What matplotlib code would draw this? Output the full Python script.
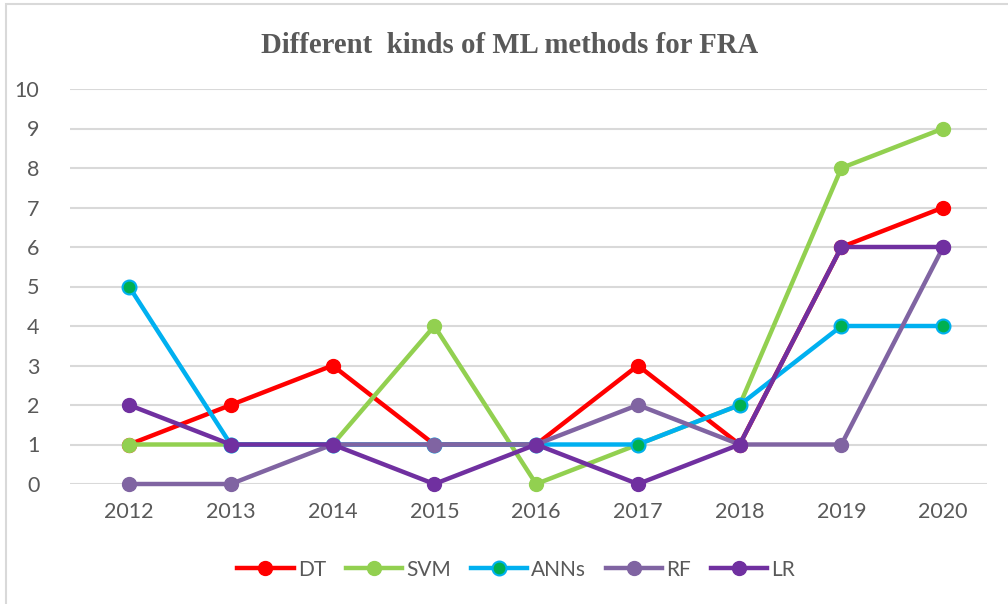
import numpy as np
import matplotlib.pyplot as plt
from matplotlib.patches import Rectangle

# data
years = [2012, 2013, 2014, 2015, 2016, 2017, 2018, 2019, 2020]
dt = [1, 2, 3, 1, 1, 3, 1, 6, 7]
svm = [1, 1, 1, 4, 0, 1, 2, 8, 9]
anns = [5, 1, 1, 1, 1, 1, 2, 4, 4]
rf = [0, 0, 1, 1, 1, 2, 1, 1, 6]
lr = [2, 1, 1, 0, 1, 0, 1, 6, 6]

fig = plt.figure(figsize=(10.08, 6.04), dpi=100)
ax = fig.add_axes([70 / 1008, 1 - 484 / 604, 917 / 1008, 395 / 604])

# light frame around the chart
fig.patches.append(Rectangle((6 / 1008, -0.05), 1.2, (1 - 4 / 604) + 0.05,
                             transform=fig.transFigure, fill=False,
                             edgecolor='#d9d9d9', linewidth=1.5))

lw = 3.2
ms = 10
ax.plot(years, dt, color='#FF0000', lw=lw, marker='o', ms=ms, label='DT', zorder=3, clip_on=False)
ax.plot(years, svm, color='#92D050', lw=lw, marker='o', ms=ms, label='SVM', zorder=3, clip_on=False)
ax.plot(years, anns, color='#00B0F0', lw=lw, marker='o', ms=ms, mfc='#00B050',
        mec='#00B0F0', mew=1.5, label='ANNs', zorder=3, clip_on=False)
ax.plot(years, rf, color='#8064A2', lw=lw, marker='o', ms=ms, label='RF', zorder=3, clip_on=False)
ax.plot(years, lr, color='#7030A0', lw=lw, marker='o', ms=ms, label='LR', zorder=3, clip_on=False)

ax.set_xlim(2011.42, 2020.43)
ax.set_ylim(0, 10)
ax.set_yticks(range(0, 11))
ax.set_xticks(years)
ax.grid(axis='y', color='#d9d9d9', lw=1.5)
ax.set_axisbelow(True)
for s in ax.spines.values():
    s.set_visible(False)
ax.tick_params(length=0, labelsize=15.5, labelcolor='#595959')
for t in ax.get_xticklabels() + ax.get_yticklabels():
    t.set_fontfamily('Lato')
ax.tick_params(axis='y', pad=22)
ax.tick_params(axis='x', pad=13)

fig.text(0.506, 0.925, 'Different  kinds of ML methods for FRA', ha='center', va='center',
         fontsize=20.7, fontweight='bold', family='Liberation Serif', color='#595959')

leg = fig.legend(loc='center', bbox_to_anchor=(0.512, 0.057), ncol=5, frameon=False,
                 handlelength=2.7, handletextpad=0.2, columnspacing=0.95,
                 prop={'family': 'Lato', 'size': 15})
for t in leg.get_texts():
    t.set_color('#595959')

plt.savefig('out.png', dpi=100)
